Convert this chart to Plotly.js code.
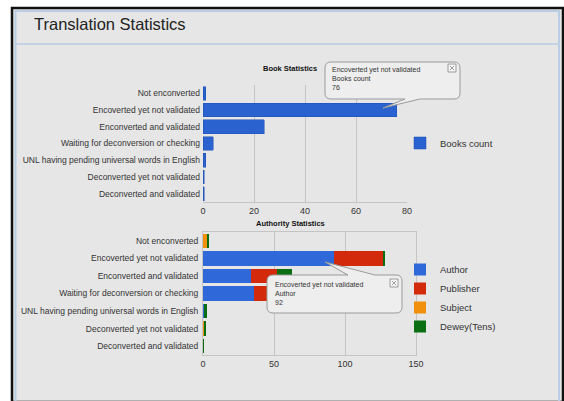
<!DOCTYPE html>
<html>
<head>
<meta charset="utf-8">
<script src="https://cdn.plot.ly/plotly-3.0.1.min.js"></script>
<style>
html,body{margin:0;padding:0;background:#fff;}
#chart{width:564px;height:401px;}
</style>
</head>
<body>
<div id="chart"></div>
<script>
// ---- data ----
var categories = [
  "Not enconverted",
  "Encoverted yet not validated",
  "Enconverted and validated",
  "Waiting for deconversion or checking",
  "UNL having pending universal words in English",
  "Deconverted yet not validated",
  "Deconverted and validated"
];
var bookCounts = [1, 76, 24, 4, 1, 0.5, 0.5];
var authorCounts    = [0, 92, 34, 36, 1, 0, 0];
var publisherCounts = [0, 35, 18, 12, 0, 0, 0];
var subjectCounts   = [3, 0, 0, 0, 0, 1, 0];
var deweyCounts     = [1, 1.5, 11, 0, 2, 1, 1];
var bookTicks = [0, 20, 40, 60, 80];
var authTicks = [0, 50, 100, 150];

// ---- helpers (pixel -> paper) ----
var W = 564, H = 401;
function px(x){ return x / W; }
function py(y){ return 1 - y / H; }
function P(x, y){ return px(x).toFixed(5) + "," + py(y).toFixed(5); }

function bubble(x0, y0, x1, y1, r, tail){
  var d = "M" + P(x0 + r, y0);
  if (tail.side === "top"){
    d += " L" + P(tail.a, y0) + " L" + P(tail.tx, tail.ty) + " L" + P(tail.b, y0);
  }
  d += " L" + P(x1 - r, y0) + " Q" + P(x1, y0) + " " + P(x1, y0 + r);
  d += " L" + P(x1, y1 - r) + " Q" + P(x1, y1) + " " + P(x1 - r, y1);
  if (tail.side === "bottom"){
    d += " L" + P(tail.b, y1) + " L" + P(tail.tx, tail.ty) + " L" + P(tail.a, y1);
  }
  d += " L" + P(x0 + r, y1) + " Q" + P(x0, y1) + " " + P(x0, y1 - r);
  d += " L" + P(x0, y0 + r) + " Q" + P(x0, y0) + " " + P(x0 + r, y0) + " Z";
  return {type:"path", xref:"paper", yref:"paper", path:d,
          fillcolor:"#eeeeee", line:{color:"#9a9a9a", width:1}, layer:"above"};
}
function closeBox(x, y){
  return [
    {type:"rect", xref:"paper", yref:"paper", x0:px(x), x1:px(x+8), y0:py(y+8), y1:py(y),
     line:{color:"#888", width:0.8}, fillcolor:"#f4f4f4", layer:"above"},
    {type:"line", xref:"paper", yref:"paper", x0:px(x+2), x1:px(x+6), y0:py(y+2), y1:py(y+6),
     line:{color:"#888", width:0.8}, layer:"above"},
    {type:"line", xref:"paper", yref:"paper", x0:px(x+2), x1:px(x+6), y0:py(y+6), y1:py(y+2),
     line:{color:"#888", width:0.8}, layer:"above"}
  ];
}
var FONT = "Liberation Sans, Arial, sans-serif";
function txt(x, y, s, opts){
  var a = {xref:"paper", yref:"paper", x:px(x), y:py(y), text:s, showarrow:false,
           xanchor:"left", yanchor:"middle",
           font:{family:FONT, size:7.5, color:"#333"}};
  for (var k in (opts||{})) a[k] = opts[k];
  return a;
}

var traces = [
  {type:"bar", orientation:"h", name:"Books count", x:bookCounts, y:categories,
   xaxis:"x", yaxis:"y", marker:{color:"#2a62d0", line:{color:"#1d4fb0", width:0.5}},
   legend:"legend"},
  {type:"bar", orientation:"h", name:"Author", x:authorCounts, y:categories,
   xaxis:"x2", yaxis:"y2", marker:{color:"#2f68d8"}, legend:"legend2"},
  {type:"bar", orientation:"h", name:"Publisher", x:publisherCounts, y:categories,
   xaxis:"x2", yaxis:"y2", marker:{color:"#d42a0c"}, legend:"legend2"},
  {type:"bar", orientation:"h", name:"Subject", x:subjectCounts, y:categories,
   xaxis:"x2", yaxis:"y2", marker:{color:"#f0900c"}, legend:"legend2"},
  {type:"bar", orientation:"h", name:"Dewey(Tens)", x:deweyCounts, y:categories,
   xaxis:"x2", yaxis:"y2", marker:{color:"#0c6e12"}, legend:"legend2"}
];

var shapes = [
  {type:"rect", xref:"paper", yref:"paper", x0:px(12), x1:px(563), y0:py(402), y1:py(8),
   fillcolor:"#e6e6e6", line:{color:"#111", width:2.5}, layer:"below"},
  {type:"rect", xref:"paper", yref:"paper", x0:px(15.5), x1:px(559), y0:py(402), y1:py(11),
   fillcolor:"rgba(0,0,0,0)", line:{color:"#b9cde3", width:2}, layer:"below"},
  {type:"line", xref:"paper", yref:"paper", x0:px(16), x1:px(558), y0:py(44), y1:py(44),
   line:{color:"#b9cde3", width:1.5}, layer:"below"},
  bubble(325, 62, 460, 99, 6, {side:"bottom", a:405, b:420, tx:383, ty:108}),
  bubble(267, 275, 402, 313, 6, {side:"top", a:348, b:375, tx:325, ty:262})
].concat(closeBox(448, 64)).concat(closeBox(390, 279));

var annotations = [
  txt(32, 24, "Translation Statistics", {font:{family:FONT, size:16.5, color:"#222"}}),
  txt(290, 68, "<b>Book Statistics</b>", {xanchor:"center", font:{family:FONT, size:7.5, color:"#111"}}),
  txt(290, 223, "<b>Authority Statistics</b>", {xanchor:"center", font:{family:FONT, size:7.5, color:"#111"}}),
  txt(330, 64, "Encoverted yet not validated<br>Books count<br>76",
      {yanchor:"top", align:"left", font:{family:FONT, size:7, color:"#333"}}),
  txt(273, 279, "Encoverted yet not validated<br>Author<br>92",
      {yanchor:"top", align:"left", font:{family:FONT, size:7, color:"#333"}})
];

var axisFont = {family:FONT, size:8.5, color:"#333"};
var legFont = {family:FONT, size:9.5, color:"#333"};

var layout = {
  width:W, height:H,
  margin:{l:0, r:0, t:0, b:0},
  paper_bgcolor:"#ffffff",
  plot_bgcolor:"#e6e6e6",
  barmode:"stack",
  bargap:0.18,
  showlegend:true,
  xaxis:{domain:[px(203), px(407)], anchor:"y", range:[0, 80], tickvals:bookTicks,
         showgrid:true, gridcolor:"#c4c4c4", zeroline:false, showline:true, linecolor:"#c4c4c4",
         ticks:"", tickfont:{family:FONT, size:9, color:"#333"}},
  yaxis:{domain:[py(202), py(85)], anchor:"x", autorange:"reversed", showgrid:false,
         zeroline:false, showline:false, ticks:"", tickfont:axisFont, ticklabelstandoff:2},
  xaxis2:{domain:[px(203), px(416)], anchor:"y2", range:[0, 150], tickvals:authTicks,
          showgrid:true, gridcolor:"#c4c4c4", zeroline:false, showline:true, mirror:true,
          linecolor:"#c4c4c4", ticks:"", tickfont:{family:FONT, size:9, color:"#333"}},
  yaxis2:{domain:[py(355), py(232)], anchor:"x2", autorange:"reversed", showgrid:false,
          zeroline:false, showline:true, mirror:true, linecolor:"#c4c4c4", ticks:"",
          tickfont:axisFont, ticklabelstandoff:2},
  legend:{x:px(400), y:py(143), xanchor:"left", yanchor:"middle", bgcolor:"rgba(0,0,0,0)",
          font:legFont, itemwidth:30, traceorder:"normal"},
  legend2:{x:px(400), y:py(298), xanchor:"left", yanchor:"middle", bgcolor:"rgba(0,0,0,0)",
           font:legFont, itemwidth:30, traceorder:"normal", tracegroupgap:0},
  shapes:shapes,
  annotations:annotations
};

Plotly.newPlot("chart", traces, layout, {displayModeBar:false, staticPlot:true});
</script>
</body>
</html>
